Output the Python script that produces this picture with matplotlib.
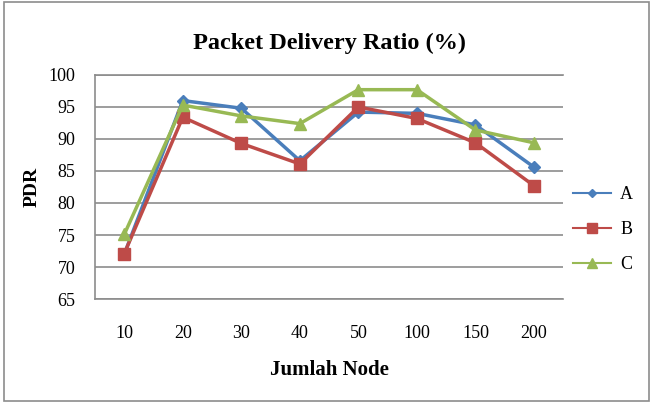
import matplotlib.pyplot as plt
from matplotlib.patches import Rectangle
from matplotlib.lines import Line2D

nodes = ["10", "20", "30", "40", "50", "100", "150", "200"]
pdr_a = [72.0, 96.0, 94.8, 86.6, 94.2, 94.0, 92.2, 85.6]
pdr_b = [72.1, 93.4, 89.3, 86.1, 95.0, 93.2, 89.4, 82.7]
pdr_c = [75.1, 95.3, 93.6, 92.4, 97.7, 97.7, 91.4, 89.4]

plt.rcParams["font.family"] = ["Liberation Serif", "DejaVu Serif"]

fig = plt.figure(figsize=(6.53, 4.03), dpi=100)
ax = fig.add_axes([0.1455, 0.258, 0.717, 0.556])

x = range(len(nodes))
ax.plot(x, pdr_a, color="#4A7EBB", lw=2.5, marker="D", ms=6, label="A")
ax.plot(x, pdr_b, color="#BE4B48", lw=2.5, marker="s", ms=8, label="B")
ax.plot(x, pdr_c, color="#98B954", lw=2.5, marker="^", ms=8, label="C")

ax.set_ylim(65, 100)
ax.set_yticks(range(65, 101, 5))
ax.set_xlim(-0.5, len(nodes) - 0.5)
ax.set_xticks(list(x))
ax.set_xticklabels(nodes)
ax.yaxis.grid(True, color="#8c8c8c", lw=1.2)
ax.set_axisbelow(True)
for s in ax.spines.values():
    s.set_color("#8c8c8c")
    s.set_linewidth(1.2)
ax.spines["right"].set_visible(False)
ax.tick_params(length=0, labelsize=13)
ax.tick_params(axis="x", pad=19)
ax.tick_params(axis="y", pad=14)

ax.set_title("Packet Delivery Ratio (%)", fontsize=17.5, fontweight="bold", pad=19)
ax.set_xlabel("Jumlah Node", fontsize=15, fontweight="bold", labelpad=13)
ax.set_ylabel("PDR", fontsize=14, fontweight="bold", labelpad=6)

handles = [
    Line2D([], [], color="#4A7EBB", lw=1.5, marker="D", ms=4),
    Line2D([], [], color="#BE4B48", lw=1.5, marker="s", ms=7),
    Line2D([], [], color="#98B954", lw=1.5, marker="^", ms=7),
]
fig.legend(handles, ["A", "B", "C"], loc="center left", bbox_to_anchor=(0.853, 0.43),
           frameon=False, fontsize=13, handlelength=2.1, handletextpad=0.5,
           labelspacing=1.0)

fig.add_artist(Rectangle((0.006, 0.006), 0.988, 0.988, transform=fig.transFigure,
                         fill=False, edgecolor="#8c8c8c", lw=1.2))

fig.savefig("out.png", dpi=100)
